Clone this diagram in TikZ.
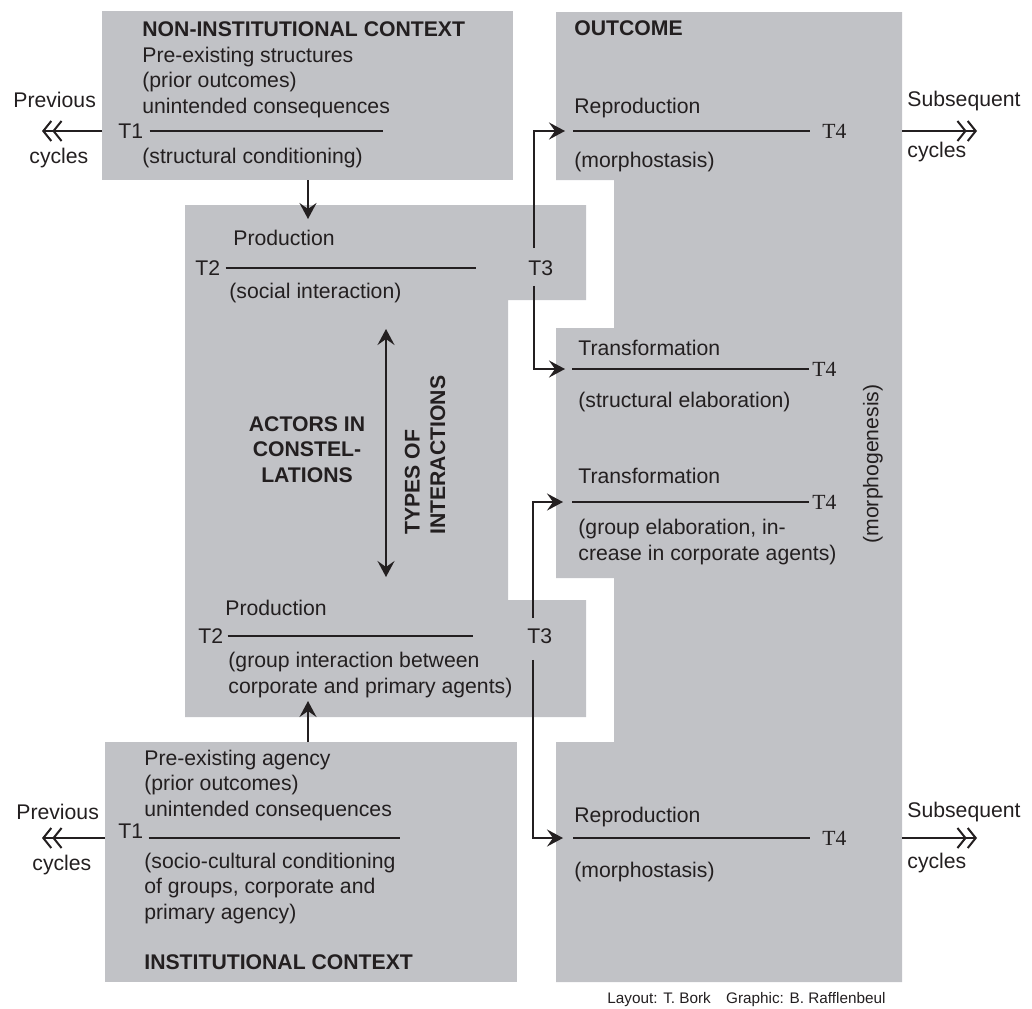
\documentclass[tikz,border=0pt]{standalone}
\usepackage{fontspec}
\setmainfont{Liberation Sans}
\newfontfamily\tserif{Liberation Serif}
\usetikzlibrary{arrows.meta}
\definecolor{ink}{RGB}{35,31,32}
\definecolor{panel}{RGB}{193,194,198}
\tikzset{
  >={Stealth[length=8pt,width=8.5pt,inset=3pt]},
  txt/.style={anchor=base west, inner sep=0pt, align=left, text=ink,
              font=\fontsize{10.6}{12.75}\selectfont},
  head/.style={txt, font=\fontsize{10.6}{12.75}\selectfont\bfseries},
  tlab/.style={anchor=west, inner sep=0pt, text=ink, font=\fontsize{10.6}{12.75}\selectfont},
  tfour/.style={tlab, font=\fontsize{10.8}{12.75}\selectfont\tserif},
  area/.style={fill=panel, draw=none, inner sep=0pt, outer sep=0pt, anchor=north west},
  tline/.style={ink, line width=1pt},
  flow/.style={->, ink, line width=1pt},
  twoway/.style={<->, ink, line width=1pt},
  cyc/.style={-{Straight Barb[length=4pt,width=10pt] Straight Barb[length=4pt,width=10pt]},
              ink, line width=1pt},
}

\begin{document}
\begin{tikzpicture}[x=0.5pt, y=-0.5pt]
  \useasboundingbox (0,0) rectangle (1032,1008);

  % grey panels
  \node[area, minimum width=205.5pt, minimum height=84.5pt] (ninbox) at (102,11) {};
  \node[area, minimum width=206pt, minimum height=120pt] (inbox) at (105,742) {};
  \fill[panel] (185,205) -| (586,300) -| (508,600) -| (586,717) -- (185,717) -- cycle;
  \fill[panel] (556,12) -- (902,12) -- (902,982) -- (556,982) |- (614,742) |- (556,578)
               |- (614,328) |- (556,180) -- cycle;
  \coordinate (oute) at (902,12);

  % non-institutional context (multi-line nodes sit on their last baseline)
  \node[head] (nin) at (142,36) {NON-INSTITUTIONAL CONTEXT};
  \node[txt] (ninpre) at (142,113) {Pre-existing structures\\(prior outcomes)\\unintended consequences};
  \node[tlab] (t1a) at (118,131) {T1};
  \coordinate (e1a) at (383,131);
  \draw[tline] ([xshift=3pt]t1a.east) -- (e1a);
  \node[txt] (ninsc) at (142,163) {(structural conditioning)};
  \node[txt] (prev1) at (13,107) {Previous};
  \node[txt] (cyc1) at (29,163) {cycles};
  \coordinate (p1) at (42,131);
  \draw[cyc] (ninbox.west |- t1a) -- (p1);

  % production / social interaction
  \coordinate (acttop) at (308,219);
  \draw[flow] (ninbox.south -| acttop) -- (acttop);
  \node[txt] (prod1) at (233,245) {Production};
  \node[tlab] (t2a) at (195,268) {T2};
  \coordinate (e2a) at (476,268);
  \draw[tline] ([xshift=2.5pt]t2a.east) -- (e2a);
  \node[tlab] (t3a) at (528,268) {T3};
  \node[txt] (soc) at (229,298) {(social interaction)};

  % actors and interactions
  \node[head, anchor=base, align=center] (act) at (307,482) {ACTORS IN\\CONSTEL-\\LATIONS};
  \coordinate (ti1) at (386,329);
  \coordinate (ti2) at (386,577);
  \draw[twoway] (ti1) -- (ti2);
  \node[head, rotate=90] (types) at (445,535) {TYPES OF\\INTERACTIONS};

  % production / group interaction
  \node[txt] (prod2) at (225,615) {Production};
  \node[tlab] (t2b) at (198,636) {T2};
  \coordinate (e2b) at (473,636);
  \draw[tline] ([xshift=2pt]t2b.east) -- (e2b);
  \node[tlab] (t3b) at (527,636) {T3};
  \node[txt] (grp) at (228,693) {(group interaction between\\corporate and primary agents)};

  % institutional context
  \coordinate (actbot) at (308,701);
  \draw[flow] (inbox.north -| actbot) -- (actbot);
  \node[txt] (inpre) at (144,816) {Pre-existing agency\\(prior outcomes)\\unintended consequences};
  \node[tlab, anchor=base west] (t1b) at (118,838) {T1};
  \coordinate (e1b) at (400,838);
  \draw[tline] ([xshift=2.5pt]t1b.base east) -- (e1b);
  \node[txt] (inscc) at (144,919) {(socio-cultural conditioning\\of groups, corporate and\\primary agency)};
  \node[head] (inst) at (144,969) {INSTITUTIONAL CONTEXT};
  \node[txt] (prev2) at (16,819) {Previous};
  \node[txt] (cyc2) at (32,870) {cycles};
  \coordinate (p2) at (42,838);
  \draw[cyc] (inbox.west |- t1b.base) -- (p2);

  % outcome
  \node[head] (out) at (574,35) {OUTCOME};
  \node[txt] (rep1) at (574,113) {Reproduction};
  \coordinate (r1) at (573,131);
  \node[tfour] (t4a) at (822,131) {T4};
  \draw[tline] (r1) -- ([xshift=-6pt]t4a.west);
  \node[txt] (mst1) at (574,167) {(morphostasis)};

  \node[txt] (tra1) at (578,355) {Transformation};
  \coordinate (r2) at (572,369);
  \node[tfour] (t4b) at (812,369) {T4};
  \draw[tline] (r2) -- ([xshift=-1.5pt]t4b.west);
  \node[txt] (sel) at (578,407) {(structural elaboration)};

  \node[txt] (tra2) at (578,483) {Transformation};
  \coordinate (r3) at (572,502);
  \node[tfour] (t4c) at (812,502) {T4};
  \draw[tline] (r3) -- ([xshift=-1.5pt]t4c.west);
  \node[txt] (gel) at (578,560) {(group elaboration, in-\\crease in corporate agents)};

  \node[txt] (rep2) at (574,822) {Reproduction};
  \coordinate (r4) at (573,838);
  \node[tfour] (t4d) at (822,838) {T4};
  \draw[tline] (r4) -- ([xshift=-6pt]t4d.west);
  \node[txt] (mst2) at (574,877) {(morphostasis)};

  \node[txt, rotate=90, anchor=center] (morph) at (873,464) {(morphogenesis)};

  % T3 branches
  \draw[flow, shorten <=6pt, shorten >=4pt] ([xshift=-3.5pt]t3a.north) |- (r1);
  \draw[flow, shorten <=5pt, shorten >=3.5pt] ([xshift=-3.5pt]t3a.south) |- (r2);
  \draw[flow, shorten <=5pt, shorten >=4.5pt] ([xshift=-3.5pt]t3b.north) |- (r3);
  \draw[flow, shorten <=8pt, shorten >=5pt] ([xshift=-3.5pt]t3b.south) |- (r4);

  % subsequent cycles
  \node[txt] (sub1) at (907,106) {Subsequent};
  \node[txt] (cyc3) at (907,157) {cycles};
  \coordinate (s1) at (977,131);
  \draw[cyc] (oute |- s1) -- (s1);
  \node[txt] (sub2) at (907,817) {Subsequent};
  \node[txt] (cyc4) at (907,868) {cycles};
  \coordinate (s2) at (977,838);
  \draw[cyc] (oute |- s2) -- (s2);

  \node[txt, font=\fontsize{7.65}{9}\selectfont] (credit) at (607,1003)
    {Layout: T. Bork\hspace{1em}Graphic: B. Rafflenbeul};
\end{tikzpicture}
\end{document}
